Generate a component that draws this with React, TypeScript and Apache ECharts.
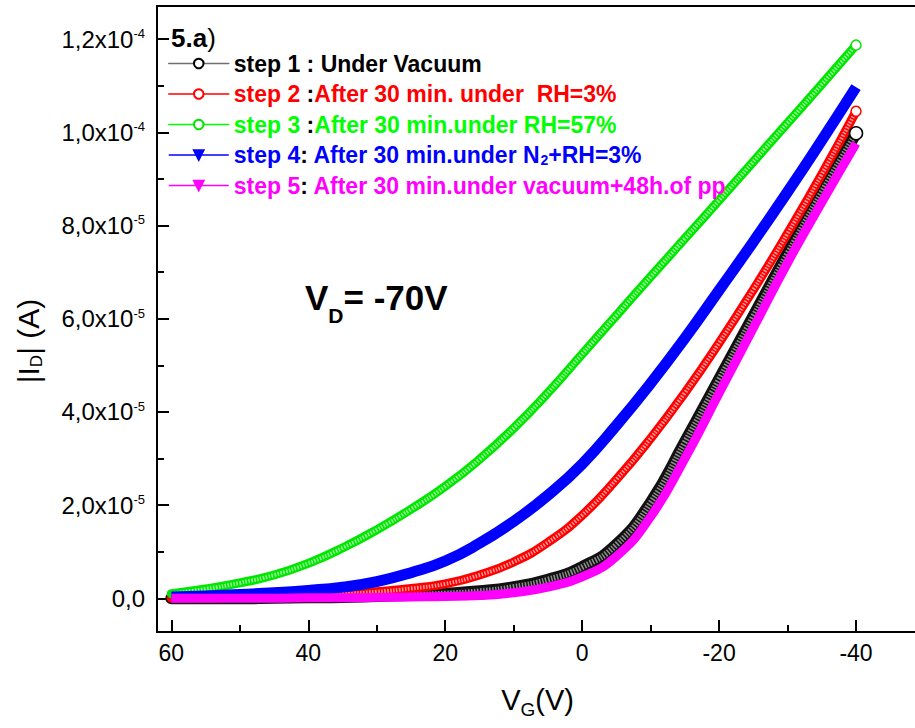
import React, { useEffect, useRef } from 'react';
import * as echarts from 'echarts';

// Gate voltage V_G (V)
const VG = [60, 55, 50, 45, 40, 35, 30, 25, 20, 15, 10, 5, 0, -5, -10, -15, -20, -25, -30, -35, -40];
// |I_D| in units of 1e-5 A
const step1 = [0.0, 0.0, 0.0, 0.01, 0.02, 0.03, 0.05, 0.07, 0.1, 0.15, 0.24, 0.4, 0.67, 1.15, 2.05, 3.35, 4.7, 6.05, 7.4, 8.72, 9.98];
const step2 = [0.0, 0.01, 0.02, 0.04, 0.06, 0.09, 0.14, 0.21, 0.31, 0.5, 0.78, 1.2, 1.78, 2.55, 3.43, 4.41, 5.48, 6.62, 7.83, 9.1, 10.45];
const step3 = [0.1, 0.2, 0.33, 0.5, 0.75, 1.08, 1.47, 1.91, 2.4, 2.98, 3.65, 4.41, 5.24, 6.07, 6.9, 7.72, 8.54, 9.37, 10.2, 11.03, 11.87];
const step4 = [0.03, 0.05, 0.08, 0.12, 0.17, 0.24, 0.36, 0.55, 0.8, 1.18, 1.65, 2.21, 2.88, 3.71, 4.61, 5.58, 6.61, 7.65, 8.72, 9.83, 10.97];
const step5 = [0.0, 0.0, 0.0, 0.0, 0.01, 0.01, 0.02, 0.03, 0.04, 0.06, 0.12, 0.24, 0.46, 0.9, 1.75, 3.0, 4.4, 5.8, 7.2, 8.5, 9.76];

const SERIES_NAMES = ['step 1', 'step 2', 'step 3', 'step 4', 'step 5'];
const LEGEND_LABELS = [
  '{k|step 1 : Under Vacuum}',
  '{r|step 2 }{k|:}{r|After 30 min. under  RH=3%}',
  '{g|step 3 }{k|:}{g|After 30 min.under RH=57%}',
  '{b|step 4}{k|:}{b| After 30 min.under N}{bs|2}{b|+RH=3%}',
  '{m|step 5}{k|:}{m| After 30 min.under vacuum+48h.of pp}',
];

const X_MAJOR_TICKS = [60, 40, 20, 0, -20, -40];
const X_MINOR_TICKS = [50, 30, 10, -10, -30];
const Y_MAJOR_TICKS = [0, 2, 4, 6, 8, 10, 12];
const Y_MINOR_TICKS = [1, 3, 5, 7, 9, 11];
const Y_TICK_MANTISSA = ['0,0', '2,0x10', '4,0x10', '6,0x10', '8,0x10', '1,0x10', '1,2x10'];
const Y_TICK_EXPONENT = ['', '-5', '-5', '-5', '-5', '-4', '-4'];

const FONT = '"Liberation Sans", Arial, Helvetica, sans-serif';

const STYLES = [
  { data: step1, band: '#111111', width: 12, texture: '#8c8c8c', textureWidth: 6, symbol: 'circle', size: 13, fill: '#ffffff', border: '#000000', legendLine: '#707070', showLast: true, cap: 'round', rotate: 0 },
  { data: step2, band: '#ff0000', width: 9, texture: '#ff9a9a', textureWidth: 4, symbol: 'circle', size: 10, fill: '#ffffff', border: '#ff0000', legendLine: '#ff0000', showLast: true, cap: 'round', rotate: 0 },
  { data: step3, band: '#00e600', width: 9, texture: '#99ff99', textureWidth: 4, symbol: 'circle', size: 10, fill: '#ffffff', border: '#00e600', legendLine: '#00ff00', showLast: true, cap: 'round', rotate: 0 },
  { data: step4, band: '#0000ff', width: 11, texture: '', textureWidth: 0, symbol: 'triangle', size: 10, fill: '#0000ff', border: '#0000ff', legendLine: '#0000ff', showLast: false, cap: 'butt', rotate: 180 },
  { data: step5, band: '#ff00ff', width: 9, texture: '', textureWidth: 0, symbol: 'triangle', size: 9, fill: '#ff00ff', border: '#ff00ff', legendLine: '#ff00ff', showLast: false, cap: 'butt', rotate: 180 },
];

function buildData(vals: number[], showLast: boolean) {
  return VG.map((v, i) => {
    const item: any = { value: [v, vals[i]] };
    if (!(showLast && i === VG.length - 1)) item.symbol = 'none';
    return item;
  });
}

const tok = (size: number, weight: string, color: string) => ({
  fontFamily: FONT, fontSize: size, fontWeight: weight, color, lineHeight: size, verticalAlign: 'top',
});

export default function App() {
  const ref = useRef<HTMLDivElement>(null);
  useEffect(() => {
    if (!ref.current) return;
    const chart = echarts.init(ref.current, undefined, { renderer: 'svg' });
    const X_MIN = -49.05;
    const X_MAX = 62.09;
    const Y_MIN = -0.723;
    const Y_MAX = 12.71;

    const series: any[] = [];
    SERIES_NAMES.forEach((name, k) => {
      const s = STYLES[k];
      const hasTexture = !!s.texture;
      series.push({
        type: 'line',
        name,
        xAxisIndex: 0,
        yAxisIndex: 0,
        data: buildData(s.data, s.showLast && !hasTexture),
        smooth: 0.5,
        symbol: s.symbol,
        symbolSize: s.size,
        symbolRotate: s.rotate,
        showSymbol: true,
        itemStyle: { color: s.fill, borderColor: s.border, borderWidth: 1.5 },
        lineStyle: { color: s.band, width: s.width, cap: s.cap, join: 'round' },
        emphasis: { disabled: true },
        silent: true,
      });
      if (hasTexture) {
        series.push({
          type: 'line',
          name: name + ' texture',
          xAxisIndex: 0,
          yAxisIndex: 0,
          data: buildData(s.data, s.showLast),
          smooth: 0.5,
          symbol: s.symbol,
          symbolSize: s.size,
          showSymbol: true,
          itemStyle: { color: s.fill, borderColor: s.border, borderWidth: 1.5 },
          lineStyle: { color: s.texture, width: s.textureWidth, type: [1.5, 1.5], cap: 'butt' },
          emphasis: { disabled: true },
          silent: true,
        });
      }
    });

    const legendRich: any = {
      k: { ...tok(23, 'bold', '#000000'), verticalAlign: 'middle' },
      r: { ...tok(23, 'bold', '#ff0000'), verticalAlign: 'middle' },
      g: { ...tok(23, 'bold', '#00ff00'), verticalAlign: 'middle' },
      b: { ...tok(23, 'bold', '#0000ff'), verticalAlign: 'middle' },
      m: { ...tok(23, 'bold', '#ff00ff'), verticalAlign: 'middle' },
      bs: { fontFamily: FONT, fontSize: 14, fontWeight: 'bold', color: '#0000ff', lineHeight: 6, verticalAlign: 'bottom' },
    };

    const option: any = {
      animation: false,
      backgroundColor: '#ffffff',
      grid: { left: 157, right: 22, top: 6, bottom: 96, show: true, borderColor: '#000', borderWidth: 2, backgroundColor: 'transparent' },
      legend: {
        orient: 'vertical',
        left: 168,
        top: 52,
        padding: 0,
        itemGap: 7.5,
        itemWidth: 60,
        itemHeight: 12,
        selectedMode: false,
        lineStyle: { width: 1.5 },
        data: SERIES_NAMES.map((name, k) => ({ name, lineStyle: { color: STYLES[k].legendLine, width: 1.5 } })),
        formatter: (name: string) => LEGEND_LABELS[SERIES_NAMES.indexOf(name)],
        textStyle: { fontFamily: FONT, fontSize: 23, fontWeight: 'bold', lineHeight: 22, rich: legendRich },
      },
      xAxis: [
        {
          type: 'value', inverse: true, min: X_MIN, max: X_MAX, position: 'bottom',
          axisLine: { show: true, onZero: false, lineStyle: { color: '#000', width: 2 } },
          axisTick: { show: true, inside: true, length: 12, customValues: X_MAJOR_TICKS, lineStyle: { color: '#000', width: 2 } },
          axisLabel: {
            show: true, margin: 9, customValues: X_MAJOR_TICKS, color: '#000', fontFamily: FONT, fontSize: 23,
            formatter: (v: number) => String(v),
          },
          splitLine: { show: false },
          name: '{a|V}{s|G}{a|(V)}',
          nameLocation: 'middle',
          nameGap: 53,
          nameTextStyle: {
            rich: {
              a: tok(29, 'normal', '#000'),
              s: { ...tok(19, 'normal', '#000'), padding: [15, 0, 0, 0] },
            },
          },
        },
        {
          type: 'value', inverse: true, min: X_MIN, max: X_MAX, position: 'bottom',
          axisLine: { show: false, onZero: false },
          axisTick: { show: true, inside: true, length: 7, customValues: X_MINOR_TICKS, lineStyle: { color: '#000', width: 2 } },
          axisLabel: { show: false },
          splitLine: { show: false },
        },
      ],
      yAxis: [
        {
          type: 'value', min: Y_MIN, max: Y_MAX, position: 'left',
          axisLine: { show: true, onZero: false, lineStyle: { color: '#000', width: 2 } },
          axisTick: { show: true, inside: true, length: 12, customValues: Y_MAJOR_TICKS, lineStyle: { color: '#000', width: 2 } },
          axisLabel: {
            show: true, margin: 12, customValues: Y_MAJOR_TICKS,
            formatter: (v: number) => {
              const i = Y_MAJOR_TICKS.findIndex((t) => Math.abs(t - v) < 1e-6);
              if (i < 0) return '';
              return '{m|' + Y_TICK_MANTISSA[i] + '}' + (Y_TICK_EXPONENT[i] ? '{e|' + Y_TICK_EXPONENT[i] + '}' : '');
            },
            rich: {
              m: tok(24, 'normal', '#000'),
              e: tok(13, 'normal', '#000'),
            },
          },
          splitLine: { show: false },
        },
        {
          type: 'value', min: Y_MIN, max: Y_MAX, position: 'left',
          axisLine: { show: false, onZero: false },
          axisTick: { show: true, inside: true, length: 7, customValues: Y_MINOR_TICKS, lineStyle: { color: '#000', width: 2 } },
          axisLabel: { show: false },
          splitLine: { show: false },
        },
      ],
      graphic: [
        {
          type: 'text',
          x: 28, y: 341, rotation: Math.PI / 2,
          style: {
            text: '{a||I}{s|D}{a|| (A)}',
            align: 'center', verticalAlign: 'middle',
            rich: {
              a: tok(30, 'normal', '#000'),
              s: { ...tok(17, 'normal', '#000'), padding: [15, 0, 0, 0] },
            },
          },
        },
        {
          type: 'text',
          x: 171, y: 38,
          style: {
            text: '{b|5.a}{n|)}',
            align: 'left', verticalAlign: 'middle',
            rich: { b: tok(26, 'bold', '#000'), n: tok(26, 'normal', '#000') },
          },
        },
        {
          type: 'text',
          x: 305, y: 280,
          style: {
            text: '{a|V}{s|D}{a|= -70V}',
            align: 'left', verticalAlign: 'top',
            rich: {
              a: tok(35, 'bold', '#000'),
              s: { ...tok(21, 'bold', '#000'), padding: [25, 0, 0, 0] },
            },
          },
        },
      ],
      series,
    };
    chart.setOption(option);
    return () => chart.dispose();
  }, []);

  return (
    <div style={{ position: 'fixed', left: 0, top: 0, width: 915, height: 728, overflow: 'hidden', background: '#fff' }}>
      <div ref={ref} style={{ width: 940, height: 728 }} />
    </div>
  );
}
